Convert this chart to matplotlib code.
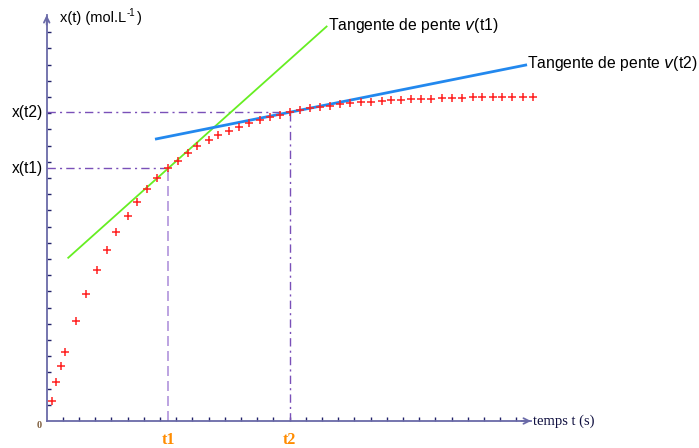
import matplotlib
matplotlib.use("Agg")
import matplotlib.pyplot as plt
import numpy as np

# ---- data (time in tick units, x in tick units) ----
t_pts = [0.3, 0.6, 0.9, 1.15, 1.8, 2.45, 3.1, 3.7, 4.3, 5.0, 5.6, 6.2, 6.8, 7.5,
         8.1, 8.75, 9.3, 10.0, 10.6, 11.25, 11.85, 12.5, 13.15, 13.8, 14.4, 15.0,
         15.65, 16.25, 16.9, 17.5, 18.1, 18.75, 19.4, 20.0, 20.7, 21.25, 21.9,
         22.5, 23.1, 23.75, 24.4, 25.0, 25.65, 26.3, 26.9, 27.55, 28.1, 28.75,
         29.4, 30.0]
x_pts = [1.23, 2.41, 3.40, 4.28, 6.17, 7.86, 9.32, 10.57, 11.65, 12.64, 13.52,
         14.32, 14.98, 15.60, 16.05, 16.56, 16.96, 17.35, 17.65, 17.92, 18.15,
         18.40, 18.60, 18.77, 18.89, 19.06, 19.18, 19.30, 19.38, 19.42, 19.54,
         19.61, 19.69, 19.69, 19.77, 19.81, 19.81, 19.86, 19.86, 19.86, 19.92,
         19.92, 19.92, 19.98, 19.98, 19.98, 19.98, 19.98, 19.98, 19.98]

t1, x_t1 = 7.5, 15.6
t2, x_t2 = 15.0, 19.06
v1_slope, v1_span = 0.895, (1.33, 17.28)
v2_slope, v2_span = 0.20, (6.77, 29.57)

x_ticks = list(range(1, 30))
y_ticks = list(range(1, 25))
x_major = [5, 10, 15, 20, 25]
x_end, y_end = 29.9, 25.06

fig = plt.figure(figsize=(6.99, 4.48), dpi=100)
ax = fig.add_axes([0, 0, 1, 1])
ax.set_xlim(-2.883, 40.27)
ax.set_ylim(-1.667, 25.99)

axis_col = "#6a6aa8"
tick_col = "#22226a"

for s in ["top", "right"]:
    ax.spines[s].set_visible(False)
ax.spines["left"].set_position(("data", 0))
ax.spines["bottom"].set_position(("data", 0))
ax.spines["left"].set_bounds(0, y_end)
ax.spines["bottom"].set_bounds(0, x_end)
for s in ["left", "bottom"]:
    ax.spines[s].set_color(axis_col)
    ax.spines[s].set_linewidth(1.3)
ax.set_xticks(x_ticks)
ax.set_yticks(y_ticks)
ax.tick_params(axis="both", direction="in", length=3, width=1, color=tick_col,
               labelbottom=False, labelleft=False)
ax.set_xticks(x_major, minor=True)
ax.tick_params(axis="x", which="minor", direction="in", length=5, width=1,
               color=tick_col)

# arrows
ax.annotate("", xy=(x_end, 0), xytext=(x_end - 0.6, 0),
            arrowprops=dict(arrowstyle="->", color=axis_col, lw=1.3,
                            mutation_scale=10, shrinkA=0, shrinkB=0))
ax.annotate("", xy=(0, y_end), xytext=(0, y_end - 0.6),
            arrowprops=dict(arrowstyle="->", color=axis_col, lw=1.3,
                            mutation_scale=10, shrinkA=0, shrinkB=0))

# guide lines
dd = (0, (6, 3, 1.5, 3))
pc = "#7a50b8"
ax.plot([0, t2], [x_t2, x_t2], color=pc, lw=1, ls=dd)
ax.plot([t2, t2], [0, x_t2], color=pc, lw=1, ls=dd)
ax.plot([0, t1], [x_t1, x_t1], color=pc, lw=1, ls=dd)
ax.plot([t1, t1], [0, x_t1], color="#b094dc", lw=1.2, ls=(0, (6, 3)))

# tangents
tt = np.array(v1_span)
ax.plot(tt, x_t1 + v1_slope * (tt - t1), color="#66ee22", lw=1.3)
tt = np.array(v2_span)
ax.plot(tt, x_t2 + v2_slope * (tt - t2), color="#2288ee", lw=2.0)

# data
ax.plot(t_pts, x_pts, ls="none", marker="+", color="#ff2020", ms=5.5, mew=1.1)

# texts
sf = ["Liberation Sans", "DejaVu Sans"]
ax.text(-0.25, x_t2, "x(t2)", ha="right", va="center", fontsize=11.2, family=sf)
ax.text(-0.25, x_t1, "x(t1)", ha="right", va="center", fontsize=11.2, family=sf)
ax.text(0.8, 24.9, "x(t) (mol.L", ha="left", va="center", fontsize=10.5, family=sf)
ax.text(4.95, 25.2, "-1", ha="left", va="center", fontsize=7, family=sf)
ax.text(5.55, 24.9, ")", ha="left", va="center", fontsize=10.5, family=sf)
ax.text(17.35, 24.4, "Tangente de pente $\\mathit{v}$(t1)", ha="left", va="center",
        fontsize=11.3, family=sf)
ax.text(29.65, 22.05, "Tangente de pente $\\mathit{v}$(t2)", ha="left", va="center",
        fontsize=11.3, family=sf)
ax.text(30.0, 0, "temps t (s)", ha="left", va="center", fontsize=10.5,
        family=["Liberation Serif", "DejaVu Serif"], color="#101040")
ax.text(-0.45, -0.3, "0", ha="center", va="center", fontsize=7.5,
        family=["Liberation Serif"], color="#806040", fontweight="bold")
ax.text(t1, -1.15, "t1", ha="center", va="center", fontsize=11.5, color="#ff8c00",
        family=["Liberation Serif"], fontweight="bold")
ax.text(t2, -1.15, "t2", ha="center", va="center", fontsize=11.5, color="#ff8c00",
        family=["Liberation Serif"], fontweight="bold")

fig.savefig("out.png", dpi=100)
